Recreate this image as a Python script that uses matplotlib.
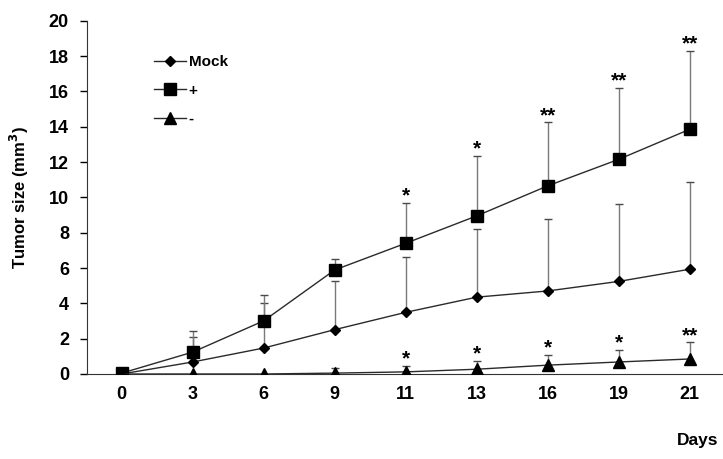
import numpy as np
import matplotlib
matplotlib.use("Agg")
from matplotlib import pyplot as plt

plt.rcParams['font.family'] = ['Liberation Sans', 'DejaVu Sans']
plt.rcParams['font.weight'] = 'bold'

days = ["0", "3", "6", "9", "11", "13", "16", "19", "21"]

mock_mean = [0, 0.68, 1.47, 2.51, 3.49, 4.35, 4.7, 5.24, 5.93]
mock_top = [0, 2.1, 4.0, 5.26, 6.64, 8.2, 8.8, 9.65, 10.85]

plus_mean = [0.05, 1.24, 3.01, 5.89, 7.4, 8.95, 10.65, 12.15, 13.85]
plus_top = [0.05, 2.45, 4.5, 6.5, 9.68, 12.35, 14.25, 16.2, 18.3]

minus_mean = [0, 0, 0, 0.05, 0.12, 0.27, 0.5, 0.68, 0.85]
minus_top = [0, 0, 0, 0.35, 0.47, 0.75, 1.1, 1.36, 1.8]

plus_stars = ["", "", "", "", "*", "*", "**", "**", "**"]
minus_stars = ["", "", "", "", "*", "*", "*", "*", "**"]


def draw_series(ax, x, mean, top, marker, ms, label):
    mean = np.array(mean)
    top = np.array(top)
    has_bar = top > mean
    ax.vlines(x[has_bar], mean[has_bar], top[has_bar], color='#7a7a7a', lw=1, zorder=1)
    ax.plot(x[has_bar], top[has_bar], ls='none', marker='_', ms=6, mew=1,
            color='#4a4a4a', zorder=1)
    ax.plot(x, mean, color='#2a2a2a', lw=1, marker=marker, ms=ms,
            mfc='black', mec='black', label=label, zorder=3)


def add_stars(ax, x, top, stars):
    for xi, yi, s in zip(x, top, stars):
        if s:
            ax.annotate(s, (xi, yi), xytext=(0, -2), textcoords='offset points',
                        ha='center', va='bottom', fontsize=15, fontweight='bold')


fig = plt.figure(figsize=(7.23, 4.59), dpi=100)
ax = fig.add_axes([0.1203, 0.1852, 0.8797, 0.7697])

x = np.arange(len(days))
draw_series(ax, x, mock_mean, mock_top, 'D', 5, 'Mock')
draw_series(ax, x, plus_mean, plus_top, 's', 8.5, '+')
draw_series(ax, x, minus_mean, minus_top, '^', 8, '-')
add_stars(ax, x, plus_top, plus_stars)
add_stars(ax, x, minus_top, minus_stars)

ax.set_xlim(-0.49, 8.47)
ax.set_ylim(0, 20)
ax.set_xticks(x)
ax.set_xticklabels(days)
ax.set_yticks(np.arange(0, 21, 2))
ax.tick_params(axis='x', length=0, pad=9, labelsize=13)
ax.tick_params(axis='y', length=5, width=1, pad=8, labelsize=13)
for lbl in ax.get_xticklabels() + ax.get_yticklabels():
    lbl.set_fontweight('bold')

ax.spines['top'].set_visible(False)
ax.spines['right'].set_visible(False)
ax.spines['left'].set_color('#333333')
ax.spines['bottom'].set_color('#333333')

ax.set_ylabel('Tumor size (mm$^\\mathbf{3}$)', fontsize=12, fontweight='bold')
ax.yaxis.set_label_coords(-0.088, 0.5)

fig.text(0.965, 0.041, 'Days', ha='center', va='center', fontsize=12.5, fontweight='bold')

leg = ax.legend(loc='upper left', bbox_to_anchor=(0.095, 0.92), frameon=False,
                handlelength=2.1, handletextpad=0.2, labelspacing=0.95,
                borderaxespad=0, prop={'weight': 'bold', 'size': 11})

fig.savefig('out.png', dpi=100)
